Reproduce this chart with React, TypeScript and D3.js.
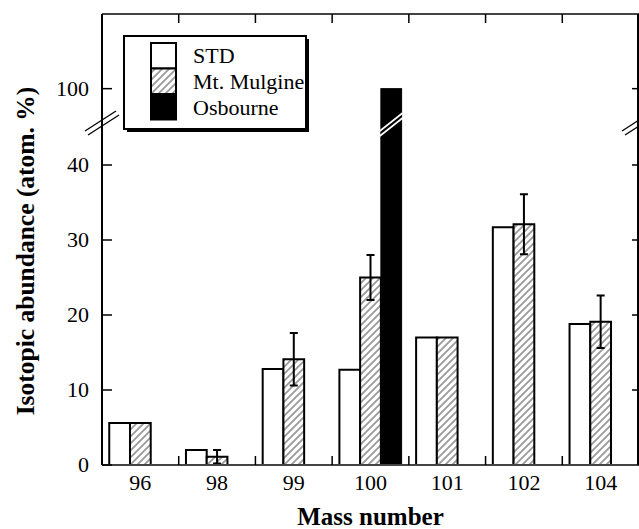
import React from "react";
import * as d3 from "d3";

const categories = ["96", "98", "99", "100", "101", "102", "104"];
const seriesNames = ["STD", "Mt. Mulgine", "Osbourne"];
const stdValues = [5.6, 2.0, 12.8, 12.7, 17.0, 31.7, 18.8];
const mulgineValues = [5.6, 1.1, 14.1, 25.0, 17.0, 32.1, 19.1];
const mulgineErrors = [0, 0.9, 3.5, 3.0, 0, 4.0, 3.5];
const osbourneValues: (number | null)[] = [null, null, null, 100, null, null, null];
const yTicksLow = [0, 10, 20, 30, 40];
const yTicksHigh = [100];

const W = 639;
const H = 529;
const left = 102;
const right = 639;
const top = 14;
const bottom = 465;

export default function App() {
  const x0 = d3.scaleBand<string>().domain(categories).range([left, right]).padding(0);
  const x1 = d3
    .scaleBand<string>()
    .domain(seriesNames)
    .range([0, x0.bandwidth()])
    .paddingInner(0)
    .paddingOuter(0.35);
  // broken axis: lower segment 0..45.6, upper 95.4..110
  const y = d3.scaleLinear().domain([0, 45.6, 95.4, 110]).range([bottom, 123, 123, top]);
  const breakY = 123;

  const serif = "Liberation Serif";
  const bw = x1.bandwidth();

  const boundaries = categories.slice(1).map((c) => x0(c)!);

  return (
    <svg width={W} height={H} style={{ position: "absolute", left: 0, top: 0, fontFamily: serif }}>
      <defs>
        <pattern id="hatch" width="7" height="7" patternUnits="userSpaceOnUse">
          <rect width="7" height="7" fill="#fff" />
          <path d="M-1,8 L8,-1 M-2,2 L2,-2 M5,9 L9,5" stroke="#9a9a9a" strokeWidth="1.8" />
        </pattern>
      </defs>

      {/* bars */}
      {categories.map((c, i) => {
        const gx = x0(c)!;
        const bars: React.ReactNode[] = [];
        const sx = gx + x1("STD")!;
        bars.push(
          <rect key="s" x={sx} y={y(stdValues[i])} width={bw} height={y(0) - y(stdValues[i])}
            fill="#fff" stroke="#000" strokeWidth={2} />
        );
        const mx = gx + x1("Mt. Mulgine")!;
        bars.push(
          <rect key="m" x={mx} y={y(mulgineValues[i])} width={bw} height={y(0) - y(mulgineValues[i])}
            fill="url(#hatch)" stroke="#000" strokeWidth={2} />
        );
        const ov = osbourneValues[i];
        if (ov != null) {
          const ox = gx + x1("Osbourne")!;
          bars.push(
            <g key="o">
              <rect x={ox} y={y(ov)} width={bw} height={y(0) - y(ov)} fill="#000" stroke="#000" strokeWidth={1} />
              <line x1={ox - 1} y1={breakY + 8} x2={ox + bw + 1} y2={breakY - 10} stroke="#fff" strokeWidth={1.6} />
              <line x1={ox - 1} y1={breakY + 13} x2={ox + bw + 1} y2={breakY - 5} stroke="#fff" strokeWidth={1.6} />
            </g>
          );
        }
        const e = mulgineErrors[i];
        if (e > 0) {
          const cx = mx + bw / 2;
          const v = mulgineValues[i];
          bars.push(
            <g key="e" stroke="#000" strokeWidth={2}>
              <line x1={cx} x2={cx} y1={y(v + e)} y2={y(v - e)} />
              <line x1={cx - 4} x2={cx + 4} y1={y(v + e)} y2={y(v + e)} />
              <line x1={cx - 4} x2={cx + 4} y1={y(v - e)} y2={y(v - e)} />
            </g>
          );
        }
        return <g key={c}>{bars}</g>;
      })}

      {/* frame */}
      <line x1={left} x2={right} y1={top} y2={top} stroke="#444" strokeWidth={2} />
      <line x1={left} x2={right} y1={bottom} y2={bottom} stroke="#444" strokeWidth={2} />
      <line x1={left} x2={left} y1={top} y2={bottom} stroke="#000" strokeWidth={2} />
      <line x1={right - 1} x2={right - 1} y1={top} y2={bottom} stroke="#000" strokeWidth={2} />

      {/* x ticks */}
      {boundaries.map((bx, i) => (
        <g key={i} stroke="#000" strokeWidth={1.5}>
          <line x1={bx} x2={bx} y1={bottom} y2={bottom - 9} />
          <line x1={bx} x2={bx} y1={top} y2={top + 9} />
        </g>
      ))}
      {categories.map((c) => (
        <text key={c} x={x0(c)! + x0.bandwidth() / 2} y={bottom + 25} fontSize={22} textAnchor="middle"
          style={{ fontFamily: serif }}>
          {c}
        </text>
      ))}

      {/* y ticks */}
      {[...yTicksLow, ...yTicksHigh].map((t) => (
        <g key={t}>
          <line x1={left} x2={left + 10} y1={y(t)} y2={y(t)} stroke="#000" strokeWidth={1.5} />
          {t > 0 && <line x1={right - 7} x2={right} y1={y(t)} y2={y(t)} stroke="#000" strokeWidth={1.5} />}
          <text x={left - 13} y={y(t) + 7} fontSize={22} textAnchor="end" style={{ fontFamily: serif }}>
            {t}
          </text>
        </g>
      ))}

      {/* axis break marks */}
      {[left, right].map((ax, i) => (
        <g key={i} stroke="#000" strokeWidth={1.3}>
          <line x1={ax - 17} y1={breakY + 8} x2={ax + 14} y2={breakY - 12} />
          <line x1={ax - 14} y1={breakY + 12} x2={ax + 17} y2={breakY - 8} />
        </g>
      ))}

      {/* legend */}
      <rect x={127} y={39} width={182} height={93} fill="#000" />
      <rect x={124} y={36} width={182} height={93} fill="#fff" stroke="#000" strokeWidth={2} />
      {seriesNames.map((s, i) => (
        <g key={s}>
          <rect x={151} y={43 + i * 25.5} width={25} height={25.5}
            fill={i === 0 ? "#fff" : i === 1 ? "url(#hatch)" : "#000"} stroke="#000" strokeWidth={2} />
          <text x={193} y={63 + i * 26} fontSize={22} style={{ fontFamily: serif }}>
            {s}
          </text>
        </g>
      ))}

      {/* axis titles */}
      <text x={(left + right) / 2} y={525} fontSize={25} fontWeight="bold" textAnchor="middle"
        style={{ fontFamily: serif }}>
        Mass number
      </text>
      <text transform={`translate(34, 251) rotate(-90)`} fontSize={25.5} fontWeight="bold" textAnchor="middle"
        style={{ fontFamily: serif }}>
        Isotopic abundance (atom. %)
      </text>
    </svg>
  );
}
